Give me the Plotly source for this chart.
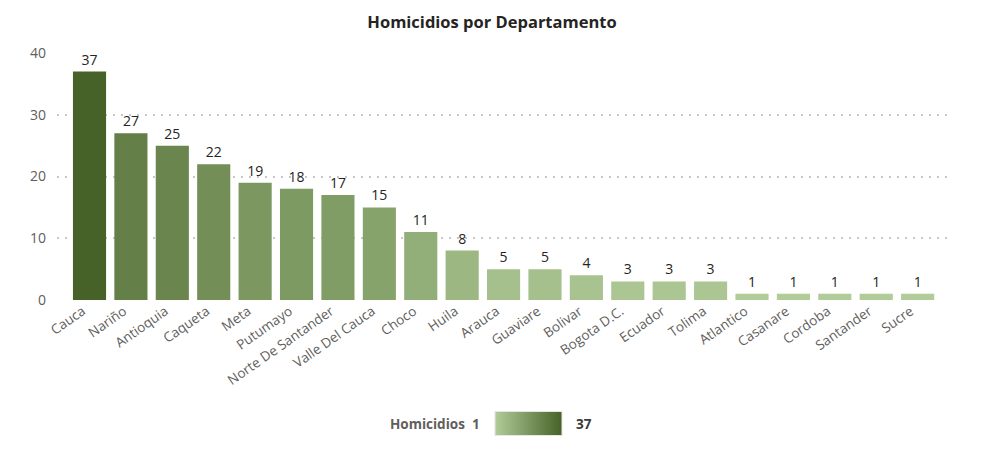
import plotly.graph_objects as go

# datos
departamentos = ["Cauca", "Nariño", "Antioquia", "Caqueta", "Meta", "Putumayo",
                 "Norte De Santander", "Valle Del Cauca", "Choco", "Huila", "Arauca",
                 "Guaviare", "Bolivar", "Bogota D.C.", "Ecuador", "Tolima", "Atlantico",
                 "Casanare", "Cordoba", "Santander", "Sucre"]
homicidios = [37, 27, 25, 22, 19, 18, 17, 15, 11, 8, 5, 5, 4, 3, 3, 3, 1, 1, 1, 1, 1]

escala = [[0, "#b1cc98"], [1, "#466228"]]

W, H = 984, 459
OFF = 8  # margen del body en la pagina
# area de trazado en pixeles de pantalla: x 57..952, y 53..300
L = 57 - OFF
T = 53 - OFF
R = W + OFF - 952
B = H + OFF - 300
pw = W - L - R
ph = H - T - B


def px_x(p):
    return (p - OFF - L) / pw


def px_y(p):
    return (H - B - (p - OFF)) / ph


fig = go.Figure()
fig.add_trace(go.Bar(
    x=departamentos,
    y=homicidios,
    text=homicidios,
    textposition="outside",
    cliponaxis=False,
    textfont=dict(color="#252423", size=14),
    marker=dict(
        color=homicidios,
        colorscale=escala,
        cmin=1,
        cmax=37,
        line=dict(width=0),
        colorbar=dict(
            orientation="h",
            x=px_x(528.5), xanchor="center",
            y=px_y(424), yanchor="middle",
            lenmode="pixels", len=87,
            thickness=24,
            showticklabels=False,
            ticks="",
            outlinewidth=1,
            outlinecolor="#e6e6e6",
        ),
    ),
    hoverinfo="x+y",
))

# leyenda de color: textos a los lados
fig.add_annotation(text="<b>Homicidios</b>  <b>1</b>", xref="paper", yref="paper",
                   x=px_x(482), y=px_y(424), xanchor="right", yanchor="middle",
                   showarrow=False, font=dict(size=13.5, color="#605e5c"))
fig.add_annotation(text="<b>37</b>", xref="paper", yref="paper",
                   x=px_x(574), y=px_y(424), xanchor="left", yanchor="middle",
                   showarrow=False, font=dict(size=13.5, color="#3b3a39"))

fig.update_layout(
    width=W, height=H,
    margin=dict(l=L, r=R, t=T, b=B, autoexpand=False),
    paper_bgcolor="white",
    plot_bgcolor="white",
    font=dict(family="Open Sans, DejaVu Sans, sans-serif", color="#605e5c", size=13),
    title=dict(text="<b>Homicidios por Departamento</b>",
               x=(492 - OFF) / W, xref="container", xanchor="center",
               y=1 - (22 - OFF) / H, yref="container", yanchor="middle",
               font=dict(size=16.5, color="#252423")),
    bargap=0.2,
    showlegend=False,
)
fig.update_xaxes(
    range=[-0.785, 20.83],
    tickangle=-35,
    ticklabelshift=-7,
    automargin=False,
    showgrid=False,
    showline=False,
    ticks="",
    tickfont=dict(size=13.5, color="#605e5c"),
)
fig.update_yaxes(
    range=[0, 40],
    tickvals=[0, 10, 20, 30, 40],
    automargin=False,
    showgrid=True,
    gridcolor="#c8c8c8",
    griddash="1.5px,6.5px",
    gridwidth=1.5,
    zeroline=False,
    showline=False,
    ticks="",
    ticklabelstandoff=10,
    tickfont=dict(size=14, color="#605e5c"),
)

fig.write_html("out.html")
